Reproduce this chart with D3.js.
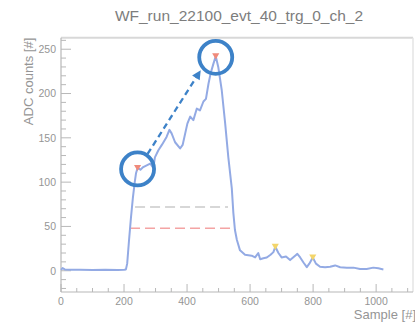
<!DOCTYPE html>
<html><head><meta charset="utf-8">
<script src="https://cdn.jsdelivr.net/npm/d3@7/dist/d3.min.js"></script>
<style>html,body{margin:0;padding:0;background:#fff;}svg{display:block;font-family:"Liberation Sans",Arial,Helvetica,sans-serif;}</style>
</head><body><svg id="c" width="415" height="322"></svg>
<script>
const title = "WF_run_22100_evt_40_trg_0_ch_2";
const xLabel = "Sample [#]";
const yLabel = "ADC counts [#]";
const xTicks = [0, 200, 400, 600, 800, 1000];
const yTicks = [0, 50, 100, 150, 200, 250];
const samples = [0,5,12,30,60,100,140,180,200,206,210,216,222,228,234,238,243,252,261,272,283,293,298,309,320,335,344,351,362,378,386,401,410,420,431,441,452,460,468,475,484,491,499,510,521,531,542,547,552,558,568,584,605,616,626,632,642,653,665,674,680,690,700,714,727,743,750,759,770,780,788,799,809,822,838,854,870,886,907,928,949,970,991,1007,1023];
const adc = [1,3,1.5,1,1.2,0.8,1,0.8,1.2,1.5,8,35,60,82,100,110,116,114,117,119,121,116,128,136,142,151,159,155,145,138,142,166,174,170,183,181,191,194,211,223,234,242,230,204,166,128,93,65,46,35,23,18,17,15,20,13,14,15,18,21,27,20,15,16,12,17,19,15,9,4,8,15,8,4.5,4,4.5,6,4,3.5,3.5,2,2,3.5,2.7,1.5];
const peakSamples = [243, 491];
const peakValues = [116, 242];
const minorPeakSamples = [680, 799];
const minorPeakValues = [27, 15];
const thresholdValues = [72, 48];
const thresholdStarts = [235, 219];
const thresholdEnds = [530, 552];
const thresholdColors = ["#cacaca", "#f4a4a4"];

const svg = d3.select("#c");
const L = 61, R = 413, T = 37.7, B = 292;
const x = d3.scaleLinear().domain([0, 1117]).range([L, R]);
const y = d3.scaleLinear().domain([-24, 263]).range([B, T]);
const axisCol = "#b8b8b8", textCol = "#959595";

// frame
svg.append("line").attr("x1", L).attr("x2", R).attr("y1", T).attr("y2", T).attr("stroke", "#d8d8d8").attr("stroke-width", 2);
svg.append("line").attr("x1", R).attr("x2", R).attr("y1", T).attr("y2", B).attr("stroke", "#e4e4e4").attr("stroke-width", 1.5);

// x axis
const gx = svg.append("g").attr("transform", `translate(0,${B})`);
gx.append("line").attr("x1", L).attr("x2", R).attr("stroke", axisCol).attr("stroke-width", 1.2);
d3.range(0, 1117, 50).forEach(v => {
  const major = v % 200 === 0;
  gx.append("line").attr("x1", x(v)).attr("x2", x(v)).attr("y1", 0).attr("y2", major ? -8 : -4).attr("stroke", axisCol).attr("stroke-width", 1);
});
xTicks.forEach(v => gx.append("text").attr("x", x(v)).attr("y", 13).attr("text-anchor", "middle").attr("font-size", 10.5).attr("fill", textCol).text(v));

// y axis
const gy = svg.append("g").attr("transform", `translate(${L},0)`);
gy.append("line").attr("y1", T).attr("y2", B).attr("stroke", axisCol).attr("stroke-width", 1.2);
d3.range(-20, 263, 10).forEach(v => {
  const major = v % 50 === 0;
  gy.append("line").attr("y1", y(v)).attr("y2", y(v)).attr("x1", 0).attr("x2", major ? 10 : 5).attr("stroke", axisCol).attr("stroke-width", 1);
});
yTicks.forEach(v => gy.append("text").attr("x", -5).attr("y", y(v) + 3.8).attr("text-anchor", "end").attr("font-size", 10.5).attr("fill", textCol).text(v));

// labels
svg.append("text").attr("x", 239).attr("y", 21).attr("text-anchor", "middle").attr("font-size", 15.5).attr("fill", "#7d7d7d").text(title);
svg.append("text").attr("transform", `translate(33,${T}) rotate(-90)`).attr("text-anchor", "end").attr("font-size", 13).attr("fill", textCol).text(yLabel);
svg.append("text").attr("x", 416).attr("y", 319).attr("text-anchor", "end").attr("font-size", 13).attr("fill", textCol).text(xLabel);

// threshold lines
thresholdValues.forEach((v, i) => {
  svg.append("line").attr("x1", x(thresholdStarts[i])).attr("x2", x(thresholdEnds[i])).attr("y1", y(v)).attr("y2", y(v))
    .attr("stroke", thresholdColors[i]).attr("stroke-width", 1.6).attr("stroke-dasharray", "10,5");
});

// waveform
const data = samples.map((s, i) => [s, adc[i]]);
svg.append("path").datum(data).attr("fill", "none").attr("stroke", "#93aae4").attr("stroke-width", 2).attr("stroke-linejoin", "round")
  .attr("d", d3.line().x(d => x(d[0])).y(d => y(d[1])));

// markers
const tri = d3.symbol().type(d3.symbolTriangle).size(22);
peakSamples.forEach((s, i) => svg.append("path").attr("d", tri()).attr("fill", "#f08a7a")
  .attr("transform", `translate(${x(s)},${y(peakValues[i]) - 1}) rotate(180)`));
minorPeakSamples.forEach((s, i) => svg.append("path").attr("d", tri()).attr("fill", "#f3d56a")
  .attr("transform", `translate(${x(s)},${y(minorPeakValues[i]) - 1}) rotate(180)`));

// annotation circles and arrow
const blue = "#3d82c8";
peakSamples.forEach((s, i) => svg.append("circle").attr("cx", x(s)).attr("cy", y(peakValues[i]) + 1).attr("r", 16.5)
  .attr("fill", "none").attr("stroke", blue).attr("stroke-width", 3.8));
const a0 = [x(peakSamples[0]) + 10, y(peakValues[0]) - 14];
const a1 = [x(peakSamples[1]) - 15, y(peakValues[1]) + 14];
const ang = Math.atan2(a1[1] - a0[1], a1[0] - a0[0]);
const back = 7;
svg.append("line").attr("x1", a0[0]).attr("y1", a0[1]).attr("x2", a1[0] - back * Math.cos(ang)).attr("y2", a1[1] - back * Math.sin(ang))
  .attr("stroke", blue).attr("stroke-width", 2.3).attr("stroke-dasharray", "6,4");
const hw = 4.5, hl = 9;
const bx = a1[0] - hl * Math.cos(ang), by = a1[1] - hl * Math.sin(ang);
svg.append("path").attr("fill", blue).attr("d", `M${a1[0]},${a1[1]} L${bx + hw * Math.sin(ang)},${by - hw * Math.cos(ang)} L${bx - hw * Math.sin(ang)},${by + hw * Math.cos(ang)} Z`);
</script></body></html>
